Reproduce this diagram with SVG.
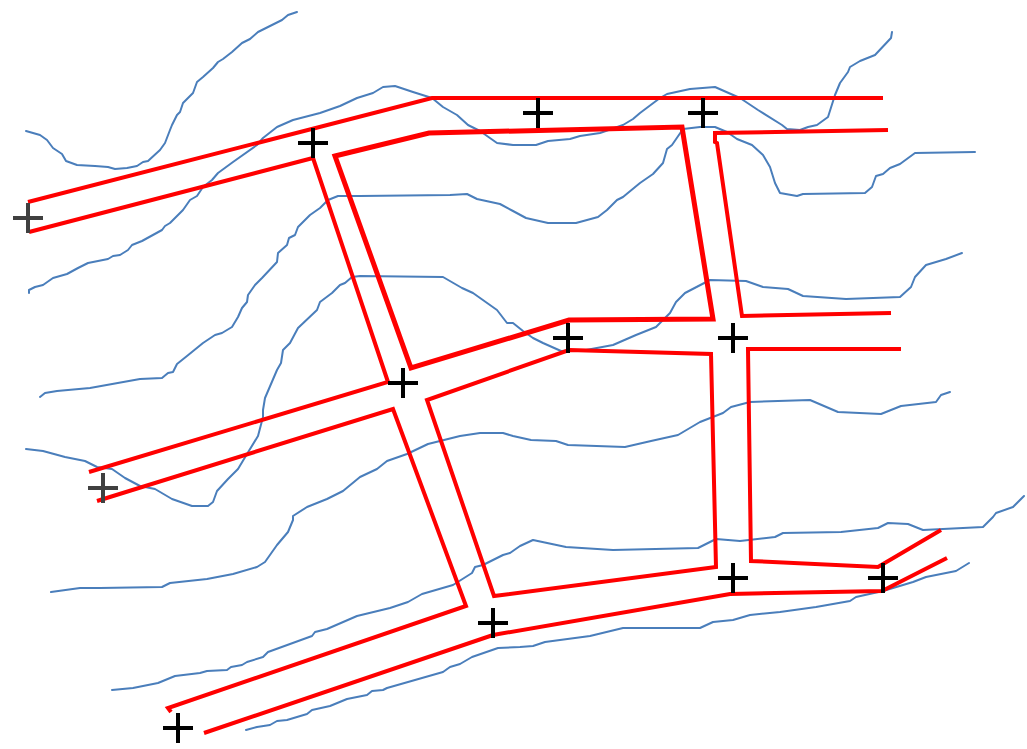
<svg xmlns="http://www.w3.org/2000/svg" width="1027" height="749" viewBox="0 0 1027 749">
<style>
.b{fill:none;stroke:#4a7ebb;stroke-width:2;stroke-linejoin:round;stroke-linecap:round}
.r{fill:none;stroke:#f00;stroke-width:4;stroke-linejoin:miter}
.t{stroke-width:5}
.k{fill:none;stroke:#000;stroke-width:4}
.g{stroke:#404040}
</style>
<defs><path id="x" d="M-15 0H15M0 -15V15"/></defs>
<rect width="1027" height="749" fill="#fff"/>
<g id="contours">
<polyline class="b" points="26,131 40,135 47,140 53,148 62,154 66,161 77,165 95,166 108,167 115,169 127,168 137,166 143,162 148,161 160,150 165,143 170,130 172,125 177,115 180,112 183,103 193,93 197,82 203,77 213,68 218,62 223,59 232,52 242,43 250,39 258,32 268,27 282,20 288,15 297,12"/>
<polyline class="b" points="29,293 29,290 35,287 43,285 53,278 67,274 78,268 88,263 108,259 113,256 120,255 128,250 132,245 142,241 162,230 165,226 170,223 183,210 190,200 197,196 203,187 212,180 218,173 233,162 257,145 263,138 277,127 293,120 320,113 340,106 357,98 373,93 383,87 395,86 413,92 432,98 443,107 457,115 468,125 480,131 497,143 513,145 536,145 548,141 570,139 580,136 600,133 623,125 633,119 640,113 660,98 667,94 690,89 715,87 740,98 758,110 782,125 787,129 800,130 808,127 817,125 828,117 835,95 840,83 848,72 850,67 860,61 875,55 891,38 892,32"/>
<polyline class="b" points="40,397 45,393 57,391 90,388 140,379 162,378 168,373 173,372 177,364 187,356 203,343 215,335 222,333 232,327 238,317 242,308 247,302 248,295 255,285 262,278 277,262 278,253 287,245 289,238 295,235 298,227 310,215 320,208 328,200 338,196 360,196 450,195 467,194 477,199 500,204 513,211 526,218 548,223 576,223 598,217 607,210 617,200 623,197 640,183 653,174 663,163 667,149 672,145 683,129 700,127 715,127 727,132 737,139 752,145 763,155 770,167 775,183 780,193 797,196 803,194 865,193 872,187 876,176 883,174 890,168 900,164 915,153 975,152"/>
<polyline class="b" points="26,449 43,451 65,457 85,461 97,467 112,469 125,478 140,486 155,489 172,499 192,506 208,506 213,502 217,491 228,479 238,469 247,454 258,436 263,417 263,410 265,398 277,370 281,363 283,350 290,343 298,328 317,310 320,302 332,293 340,285 345,283 352,277 360,276 443,277 462,288 473,293 497,310 507,323 513,323 523,331 533,338 543,343 561,351 586,350 613,345 636,335 656,327 670,313 676,302 685,293 710,280 746,281 763,287 788,289 803,296 846,299 900,297 911,287 915,277 926,265 946,259 962,253"/>
<polyline class="b" points="51,592 80,588 100,588 162,587 170,583 207,579 233,574 257,567 265,562 277,545 288,532 293,520 293,516 307,507 327,499 343,491 360,477 377,469 387,461 407,454 428,444 460,436 480,433 503,433 513,436 531,440 556,441 568,445 625,447 651,441 678,435 700,422 723,413 731,407 750,402 810,400 838,412 881,414 901,406 936,402 941,395 950,392"/>
<polyline class="b" points="112,690 133,688 158,683 175,676 200,673 207,671 227,670 231,667 242,665 247,662 263,657 268,652 312,636 315,632 327,629 357,616 390,608 408,602 422,594 453,585 472,573 475,567 483,565 503,555 510,553 520,546 533,540 566,547 613,550 698,548 716,539 740,541 775,537 783,533 841,532 878,528 888,523 908,524 923,530 983,527 993,517 996,513 1013,507 1024,496"/>
<polyline class="b" points="246,730 257,727 270,725 277,721 287,720 307,714 312,710 330,706 347,699 367,695 372,691 383,690 387,688 443,672 450,667 460,664 472,657 498,648 520,647 533,646 545,642 590,636 623,628 700,628 713,622 733,620 750,615 780,612 816,607 850,601 856,597 883,591 913,582 926,577 956,571 969,563"/>
</g>
<g id="roads">
<polyline class="r" points="28,202 432,98 883,98"/>
<polyline class="r" points="29,232 313,158 388,382 89,472"/>
<polygon class="r t" points="335,156 429,133 682,127 713,319 569,320 411,368"/>
<polyline class="r" points="888,130 715,133 715,142 717,143 742,316 891,313"/>
<polyline class="r" points="901,349 748,349 751,561 878,567 941,530"/>
<polygon class="r" points="569,350 711,354 716,567 494,596 427,400"/>
<polyline class="r" points="97,501 393,409 466,606 168,708 171,712"/>
<polyline class="r" points="204,733 493,635 730,594 882,591 947,558"/>
</g>
<g id="m1" class="k g"><use href="#x" x="28" y="218"/></g>
<g id="m2" class="k"><use href="#x" x="313" y="143"/></g>
<g id="m3" class="k"><use href="#x" x="538" y="113"/></g>
<g id="m4" class="k"><use href="#x" x="703" y="113"/></g>
<g id="m5" class="k"><use href="#x" x="568" y="338"/></g>
<g id="m6" class="k"><use href="#x" x="733" y="338"/></g>
<g id="m7" class="k"><use href="#x" x="403" y="383"/></g>
<g id="m8" class="k g"><use href="#x" x="103" y="488"/></g>
<g id="m9" class="k"><use href="#x" x="733" y="578"/></g>
<g id="m10" class="k"><use href="#x" x="883" y="578"/></g>
<g id="m11" class="k"><use href="#x" x="493" y="623"/></g>
<g id="m12" class="k"><use href="#x" x="178" y="728"/></g>
</svg>
